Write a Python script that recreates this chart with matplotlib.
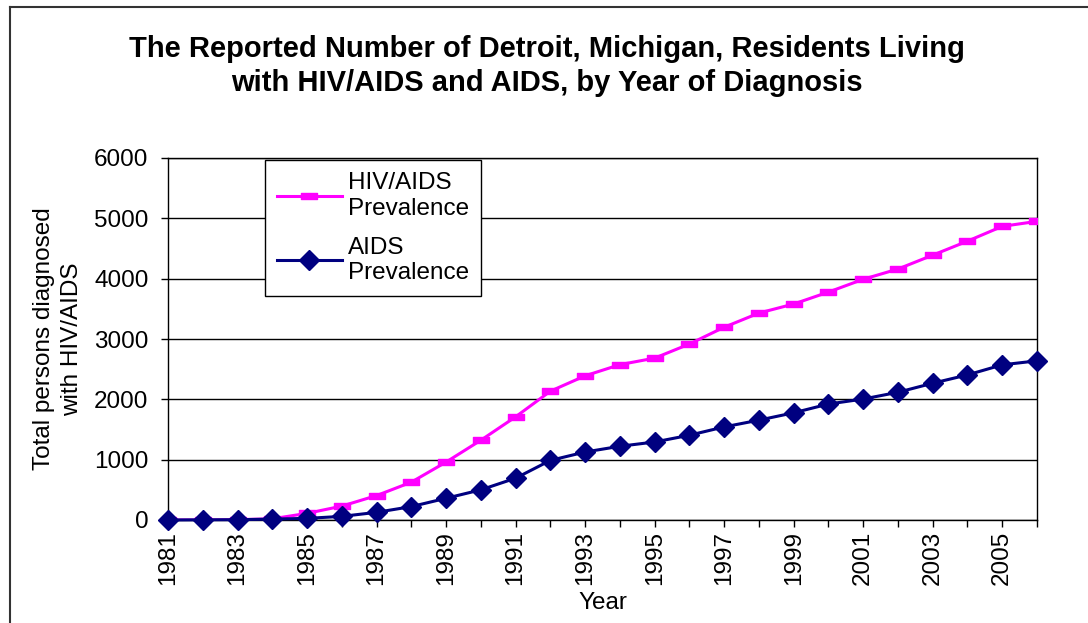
# -*- coding: utf-8 -*-
import numpy as np
import matplotlib
matplotlib.use('Agg')
import matplotlib.pyplot as plt
from matplotlib.path import Path
from matplotlib.lines import Line2D

plt.rcParams['font.family'] = ['Liberation Sans', 'DejaVu Sans']

years = list(range(1981, 2007))
hiv_aids = [0, 0, 5, 20, 110, 230, 405, 627, 960, 1322, 1710, 2135,
            2390, 2575, 2683, 2917, 3195, 3430, 3580, 3778, 3990, 4160,
            4390, 4622, 4867, 4950]
aids = [0, 3, 5, 15, 27, 60, 127, 222, 360, 500, 693, 988,
        1127, 1222, 1293, 1405, 1543, 1655, 1777, 1922, 2005, 2117,
        2267, 2405, 2572, 2638]
tick_years = list(range(1981, 2006, 2))
y_ticks = [0, 1000, 2000, 3000, 4000, 5000, 6000]

# wide flat dash marker like the Excel one
dash = Path([(-1, -0.4), (1, -0.4), (1, 0.4), (-1, 0.4), (-1, -0.4)],
            [Path.MOVETO, Path.LINETO, Path.LINETO, Path.LINETO, Path.CLOSEPOLY])

fs = 17.5

fig = plt.figure(figsize=(10.88, 6.23), dpi=100)
ax = fig.add_axes([168 / 1088, 1 - 520 / 623, (1037 - 168) / 1088, (520 - 158) / 623])

# outer chart frame
fig.add_artist(Line2D([10 / 1088, 1.0], [1 - 7 / 623, 1 - 7 / 623],
                      transform=fig.transFigure, color='#333333', lw=1.5))
fig.add_artist(Line2D([10 / 1088, 10 / 1088], [0, 1 - 7 / 623],
                      transform=fig.transFigure, color='#333333', lw=1.5))

ax.plot(years, hiv_aids, color='#ff00ff', lw=2.2, marker=dash, markersize=12,
        label='HIV/AIDS\nPrevalence', zorder=3)
ax.plot(years, aids, color='#000080', lw=2.2, marker='D', markersize=10.5,
        label='AIDS\nPrevalence', zorder=4, clip_on=False)

ax.set_xlim(1981, 2006)
ax.set_ylim(0, 6000)
ax.set_yticks(y_ticks)
ax.set_xticks(years, minor=True)
ax.set_xticks(tick_years)
ax.set_xticklabels([str(y) for y in tick_years], rotation=90)
ax.tick_params(axis='both', which='both', direction='out', length=5, width=1,
               labelsize=fs, color='black')
ax.tick_params(axis='x', which='minor', labelbottom=False)
ax.tick_params(axis='x', pad=3)
ax.tick_params(axis='y', pad=9)
ax.grid(axis='y', color='black', lw=1)
ax.set_axisbelow(True)
for s in ax.spines.values():
    s.set_color('black')
    s.set_linewidth(1)

ax.set_xlabel('Year', fontsize=fs, labelpad=5)
ax.set_ylabel('Total persons diagnosed\nwith HIV/AIDS', fontsize=fs, labelpad=8,
              linespacing=1.35)

fig.text(0.503, 1 - 66 / 623,
         'The Reported Number of Detroit, Michigan, Residents Living\n'
         'with HIV/AIDS and AIDS, by Year of Diagnosis',
         ha='center', va='center', fontsize=21, fontweight='bold',
         linespacing=1.3)

leg = ax.legend(loc='upper left', bbox_to_anchor=(0.1116, 0.994),
                borderaxespad=0, fontsize=fs, fancybox=False, framealpha=1,
                edgecolor='black', handlelength=2.65, handletextpad=0.25,
                labelspacing=0.7, borderpad=0.5)
leg.get_frame().set_linewidth(1)

fig.savefig('out.png', dpi=100)
